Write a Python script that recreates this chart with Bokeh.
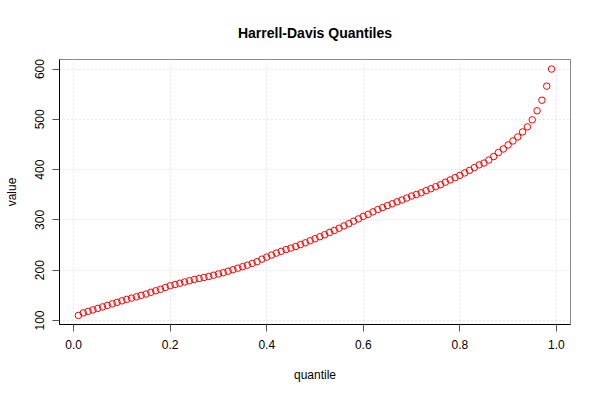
from bokeh.plotting import figure
from bokeh.models import FixedTicker, PrintfTickFormatter, Range1d, ColumnDataSource
from bokeh.embed import file_html
from bokeh.resources import INLINE

# Data
quantile = [0.01, 0.02, 0.03, 0.04, 0.05, 0.06, 0.07, 0.08, 0.09, 0.10,
            0.11, 0.12, 0.13, 0.14, 0.15, 0.16, 0.17, 0.18, 0.19, 0.20,
            0.21, 0.22, 0.23, 0.24, 0.25, 0.26, 0.27, 0.28, 0.29, 0.30,
            0.31, 0.32, 0.33, 0.34, 0.35, 0.36, 0.37, 0.38, 0.39, 0.40,
            0.41, 0.42, 0.43, 0.44, 0.45, 0.46, 0.47, 0.48, 0.49, 0.50,
            0.51, 0.52, 0.53, 0.54, 0.55, 0.56, 0.57, 0.58, 0.59, 0.60,
            0.61, 0.62, 0.63, 0.64, 0.65, 0.66, 0.67, 0.68, 0.69, 0.70,
            0.71, 0.72, 0.73, 0.74, 0.75, 0.76, 0.77, 0.78, 0.79, 0.80,
            0.81, 0.82, 0.83, 0.84, 0.85, 0.86, 0.87, 0.88, 0.89, 0.90,
            0.91, 0.92, 0.93, 0.94, 0.95, 0.96, 0.97, 0.98, 0.99]
value = [110, 115, 118, 121, 124, 127, 130, 133, 136, 139,
         142, 144.5, 147, 150, 152.5, 156, 159, 162, 165.5, 169,
         171.5, 174, 176.5, 179, 181.5, 183.5, 185.5, 187.5, 190, 192.5,
         195, 198, 201, 204, 207, 210, 213.5, 217, 222, 226,
         230, 234, 237.5, 241, 244, 247, 251, 254.5, 258.5, 262.5,
         266.5, 270.5, 275, 279, 283.5, 288, 292.5, 297.5, 302, 307,
         311, 316, 320.5, 324.5, 328.5, 332, 336, 339.5, 343.5, 347.5,
         350.5, 354, 358, 362, 366, 370, 375, 379.5, 384, 388.5,
         393.5, 398.5, 404, 409.5, 413, 419, 426, 434, 441, 449,
         457, 465, 475, 485, 499, 517, 538, 566, 600]
x_ticks = [0.0, 0.2, 0.4, 0.6, 0.8, 1.0]
y_ticks = [100, 200, 300, 400, 500, 600]

FONT = "Liberation Sans"

src = ColumnDataSource(dict(q=quantile, v=value))

p = figure(width=584, height=384, output_backend="svg", toolbar_location=None,
           x_range=Range1d(-0.0292, 1.0292), y_range=Range1d(92, 619),
           min_border_left=59, min_border_right=14, min_border_top=59, min_border_bottom=58,
           title="Harrell-Davis Quantiles")

p.title.align = "center"
p.title.text_font = FONT
p.title.text_font_size = "14px"
p.title.text_font_style = "bold"
p.title.text_color = "black"
p.title.standoff = 37

p.outline_line_color = "#8a8a8a"
p.outline_line_width = 1
p.background_fill_color = "white"
p.border_fill_color = "white"

for g, t in ((p.xgrid, x_ticks), (p.ygrid, y_ticks)):
    g.ticker = FixedTicker(ticks=t)
    g.grid_line_color = "#d3d3d3"
    g.grid_line_dash = "1 3"
    g.grid_line_width = 1

p.xaxis.ticker = FixedTicker(ticks=x_ticks)
p.yaxis.ticker = FixedTicker(ticks=y_ticks)
p.xaxis.formatter = PrintfTickFormatter(format="%.1f")
p.yaxis.formatter = PrintfTickFormatter(format="%d")
p.yaxis.major_label_orientation = "vertical"

for ax in (p.xaxis, p.yaxis):
    ax.axis_line_color = "black"
    ax.major_tick_line_color = "#555555"
    ax.major_tick_out = 7
    ax.major_tick_in = 0
    ax.minor_tick_line_color = None
    ax.major_label_text_font = FONT
    ax.major_label_text_font_size = "12px"
    ax.major_label_text_color = "black"
    ax.axis_label_text_font = FONT
    ax.axis_label_text_font_size = "12px"
    ax.axis_label_text_font_style = "normal"
    ax.axis_label_text_color = "black"

p.xaxis.axis_label = "quantile"
p.yaxis.axis_label = "value"
p.xaxis.major_label_standoff = 8
p.xaxis.axis_label_standoff = 16
p.yaxis.major_label_standoff = 8
p.yaxis.axis_label_standoff = 14

p.scatter("q", "v", source=src, marker="circle", size=6.5, fill_color=None,
          line_color="red", line_width=1)

open("out.html", "w").write(file_html(p, INLINE))
